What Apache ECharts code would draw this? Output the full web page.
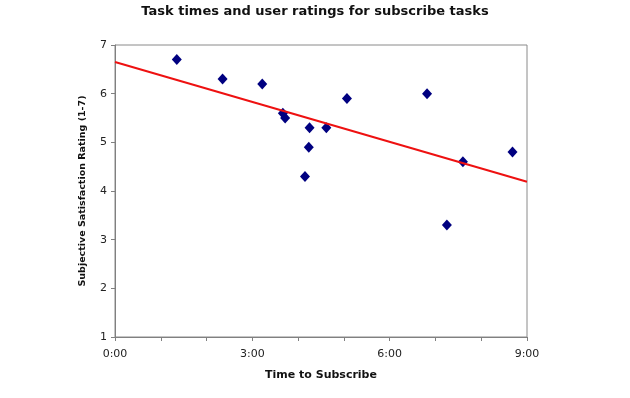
<!DOCTYPE html>
<html>
<head>
<meta charset="utf-8">
<script src="https://cdn.jsdelivr.net/npm/echarts@6/dist/echarts.min.js"></script>
<style>html,body{margin:0;padding:0;background:#fff}#c{width:630px;height:398px}</style>
</head>
<body>
<div id="c"></div>
<script>
// Task time in seconds
var times = [81, 141, 193, 220, 223, 255, 254, 249, 277, 304, 409, 435, 456, 521];
var ratings = [6.7, 6.3, 6.2, 5.6, 5.5, 5.3, 4.9, 4.3, 5.3, 5.9, 6.0, 3.3, 4.6, 4.8];
// Linear trend line endpoints (seconds, rating)
var trendTimes = [0, 540];
var trendRatings = [6.65, 4.19];
var xTickLabels = ['0:00', '3:00', '6:00', '9:00'];

var points = times.map(function (t, i) { return [t, ratings[i]]; });
var trend = trendTimes.map(function (t, i) { return [t, trendRatings[i]]; });

var font = 'DejaVu Sans, Verdana, sans-serif';
var chart = echarts.init(document.getElementById('c'), null, {renderer: 'canvas'});
chart.setOption({
  animation: false,
  backgroundColor: '#fff',
  title: {
    text: 'Task times and user ratings for subscribe tasks',
    left: 'center', top: 0,
    textStyle: {fontFamily: font, fontSize: 13, fontWeight: 'bold', color: '#111'}
  },
  grid: {left: 115, right: 103, top: 45, bottom: 61, show: true, borderColor: '#8a8a8a', borderWidth: 1},
  xAxis: {
    type: 'value', min: 0, max: 540, interval: 60,
    name: 'Time to Subscribe', nameLocation: 'middle', nameGap: 33,
    nameTextStyle: {fontFamily: font, fontSize: 11, fontWeight: 'bold', color: '#111'},
    axisLine: {show: true, lineStyle: {color: '#808080', width: 1}},
    axisTick: {show: true, length: 4, lineStyle: {color: '#808080'}},
    splitLine: {show: false},
    axisLabel: {
      fontFamily: font, fontSize: 11, color: '#222', margin: 12,
      formatter: function (v) {
        if (v % 180 !== 0) return '';
        return xTickLabels[v / 180];
      }
    }
  },
  yAxis: {
    type: 'value', min: 1, max: 7, interval: 1,
    name: 'Subjective Satisfaction Rating (1-7)', nameLocation: 'middle', nameGap: 27,
    nameTextStyle: {fontFamily: font, fontSize: 9.5, fontWeight: 'bold', color: '#111'},
    axisLine: {show: true, lineStyle: {color: '#808080', width: 1}},
    axisTick: {show: true, length: 4, lineStyle: {color: '#808080'}},
    splitLine: {show: false},
    axisLabel: {fontFamily: font, fontSize: 11, color: '#222', margin: 8}
  },
  series: [
    {
      type: 'scatter', data: points, symbol: 'diamond', symbolSize: [10, 11],
      itemStyle: {color: '#000080', opacity: 1}, z: 2
    },
    {
      type: 'line', data: trend, symbol: 'none', silent: true,
      lineStyle: {color: '#ee1111', width: 2}, z: 3
    }
  ]
});
</script>
</body>
</html>
